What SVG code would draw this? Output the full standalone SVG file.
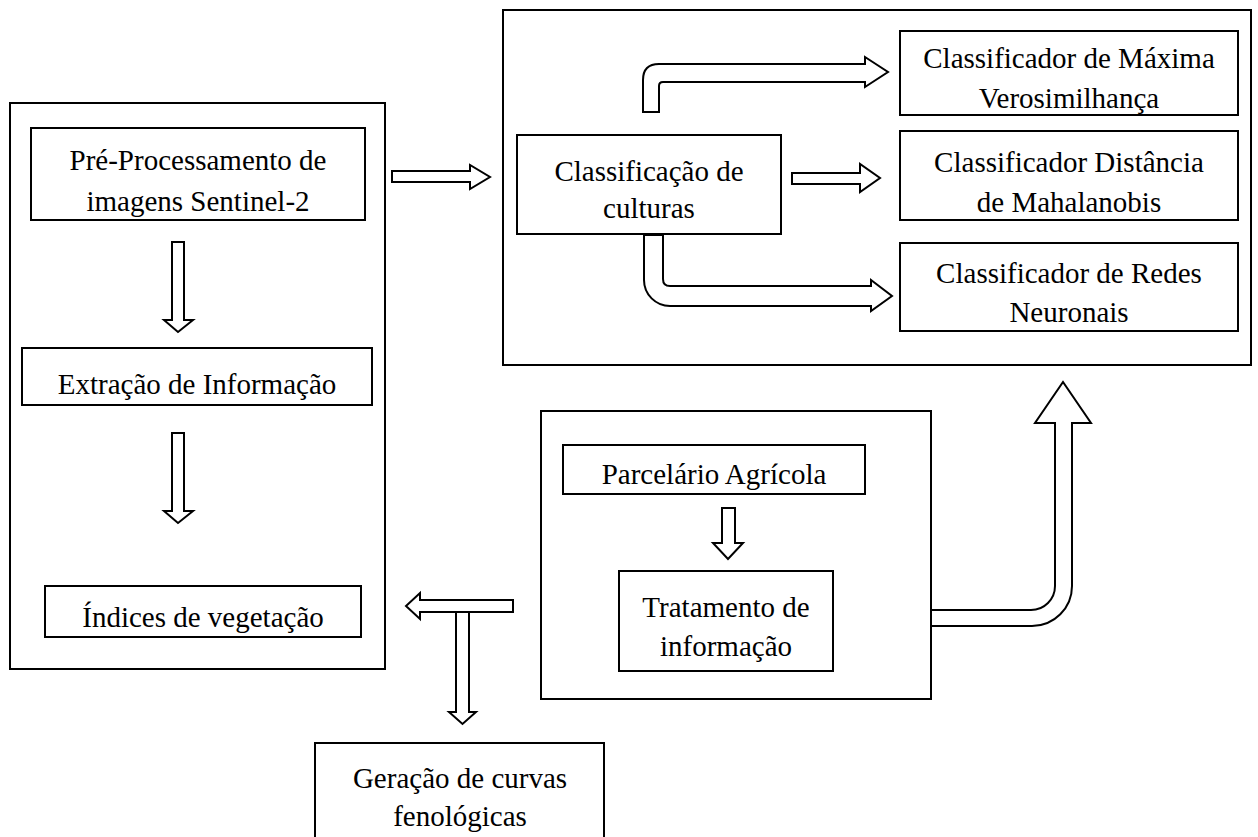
<svg xmlns="http://www.w3.org/2000/svg" width="1258" height="837" viewBox="0 0 1258 837">
<style>
.box{fill:#fff;stroke:#000;stroke-width:2}
.arr{fill:#fff;stroke:#000;stroke-width:2;stroke-linejoin:miter}
text{font-family:"Liberation Serif",serif;font-size:29px;fill:#000;text-anchor:middle}
</style>
<rect width="1258" height="837" fill="#fff"/>
<g id="panel-left"><rect class="box" x="10" y="103" width="375" height="566"/></g>
<g id="panel-right"><rect class="box" x="503" y="10" width="748" height="355"/></g>
<g id="panel-parcel"><rect class="box" x="541" y="411" width="390" height="288"/></g>
<g id="pre"><rect class="box" x="31" y="128" width="334" height="92"/><text x="198" y="170">Pré-Processamento de</text><text x="198" y="211">imagens Sentinel-2</text></g>
<g id="extracao"><rect class="box" x="22" y="348" width="350" height="57"/><text x="197" y="394">Extração de Informação</text></g>
<g id="indices"><rect class="box" x="45" y="586" width="316" height="51"/><text x="203" y="627">Índices de vegetação</text></g>
<g id="classificacao"><rect class="box" x="517" y="135" width="264" height="99"/><text x="649" y="181">Classificação de</text><text x="649" y="218">culturas</text></g>
<g id="maxima"><rect class="box" x="900" y="31" width="338" height="84"/><text x="1069" y="68">Classificador de Máxima</text><text x="1069" y="108">Verosimilhança</text></g>
<g id="mahalanobis"><rect class="box" x="900" y="131" width="338" height="89"/><text x="1069" y="172">Classificador Distância</text><text x="1069" y="212">de Mahalanobis</text></g>
<g id="redes"><rect class="box" x="900" y="243" width="338" height="88"/><text x="1069" y="283">Classificador de Redes</text><text x="1069" y="322">Neuronais</text></g>
<g id="parcelario"><rect class="box" x="563" y="445" width="302" height="49"/><text x="714" y="484">Parcelário Agrícola</text></g>
<g id="tratamento"><rect class="box" x="619" y="571" width="214" height="100"/><text x="726" y="617">Tratamento de</text><text x="726" y="656">informação</text></g>
<g id="geracao"><rect class="box" x="315" y="743" width="289" height="110"/><text x="460" y="788">Geração de curvas</text><text x="460" y="826">fenológicas</text></g>
<g id="connectors">
<path class="arr" d="M172,242 L184,242 L184,320 L193,320 L178,332 L164,320 L172,320 Z"/>
<path class="arr" d="M172,433 L184,433 L184,511 L193,511 L178,523 L164,511 L172,511 Z"/>
<path class="arr" d="M392,171 L470,171 L470,165 L490,177 L470,189 L470,182 L392,182 Z"/>
<path class="arr" d="M792,173 L860,173 L860,164 L880,178 L860,192 L860,184 L792,184 Z"/>
<path class="arr" d="M643,112 L643,80 Q643,64 659,64 L865,64 L865,57 L888,72 L865,87 L865,82 L663,82 Q659,82 659,86 L659,112 Z"/>
<path class="arr" d="M644,235 L663,235 L663,279 Q663,286 670,286 L871,286 L871,280 L892,296 L871,311 L871,306 L670,306 A26,26 0 0 1 644,280 Z"/>
<path class="arr" d="M931,610 L1031,610 A24,24 0 0 0 1055,586 L1055,423 L1035,423 L1063,382 L1091,423 L1072,423 L1072,586 A40,40 0 0 1 1032,626 L931,626 Z"/>
<path class="arr" d="M722,508 L735,508 L735,543 L743,543 L728,559 L713,543 L722,543 Z"/>
<path class="arr" d="M513,600 L420,600 L420,593 L406,606 L420,619 L420,612 L513,612 Z"/>
<path class="arr" d="M456,612 L469,612 L469,712 L476,712 L462.5,724 L449,712 L456,712 Z"/>
</g>
</svg>
